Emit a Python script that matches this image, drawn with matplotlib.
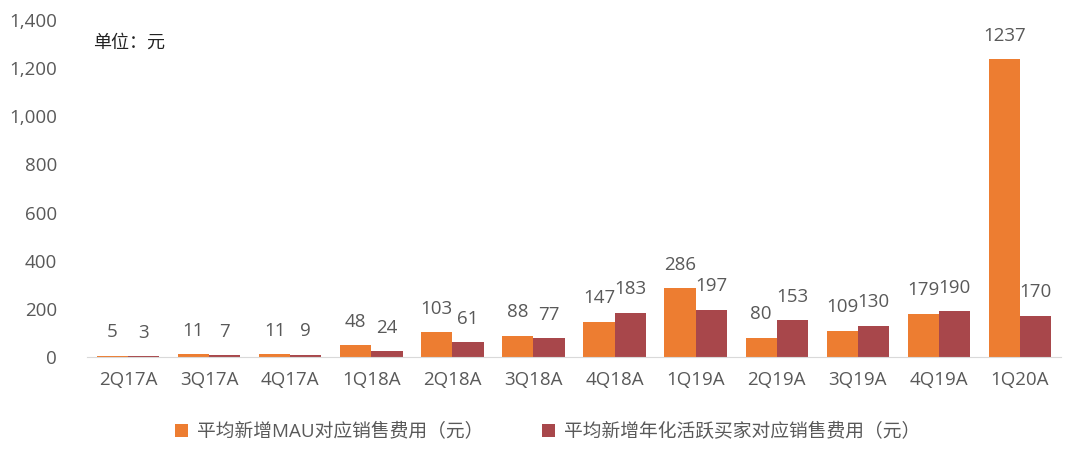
import numpy as np
import matplotlib.pyplot as plt

plt.rcParams['font.family'] = ['Open Sans', 'Noto Sans CJK SC', 'DejaVu Sans']

quarters = ['2Q17A', '3Q17A', '4Q17A', '1Q18A', '2Q18A', '3Q18A',
            '4Q18A', '1Q19A', '2Q19A', '3Q19A', '4Q19A', '1Q20A']
mau_cost = [5, 11, 11, 48, 103, 88, 147, 286, 80, 109, 179, 1237]
buyer_cost = [3, 7, 9, 24, 61, 77, 183, 197, 153, 130, 190, 170]

label_mau = '平均新增MAU对应销售费用（元）'
label_buyer = '平均新增年化活跃买家对应销售费用（元）'

orange = '#ED7D31'
maroon = '#A8474B'
gray = '#595959'

fig = plt.figure(figsize=(10.8, 4.55), dpi=100)
ax = fig.add_axes([0.081, 0.2154, 0.901, 0.7406])

x = np.arange(len(quarters))
w = 0.385
b1 = ax.bar(x - w / 2, mau_cost, w, color=orange, label=label_mau)
b2 = ax.bar(x + w / 2, buyer_cost, w, color=maroon, label=label_buyer)

for bars, vals in ((b1, mau_cost), (b2, buyer_cost)):
    for rect, v in zip(bars, vals):
        ax.annotate(str(v), (rect.get_x() + rect.get_width() / 2, v),
                    xytext=(0, 17), textcoords='offset points',
                    ha='center', va='center', fontsize=13.5, color=gray)

ax.set_ylim(0, 1400)
ax.set_xlim(-0.5, len(quarters) - 0.5)
ax.set_yticks(range(0, 1401, 200))
ax.set_yticklabels([f'{v:,}' for v in range(0, 1401, 200)])
ax.set_xticks(x)
ax.set_xticklabels(quarters)
ax.tick_params(axis='both', length=0, labelsize=13.5, labelcolor=gray)
ax.tick_params(axis='y', pad=22)
ax.tick_params(axis='x', pad=10)

for side in ('top', 'right', 'left'):
    ax.spines[side].set_visible(False)
ax.spines['bottom'].set_color('#D9D9D9')

fig.text(0.086, 0.905, '单位：元', fontsize=13, color='#222222', va='center')

fig.legend(loc='center', bbox_to_anchor=(0.507, 0.05), ncol=2, frameon=False,
           prop={'size': 13.5}, labelcolor=gray, handlelength=0.7, handleheight=0.7,
           handletextpad=0.5, columnspacing=3.1)

fig.savefig('out.png', dpi=100)
